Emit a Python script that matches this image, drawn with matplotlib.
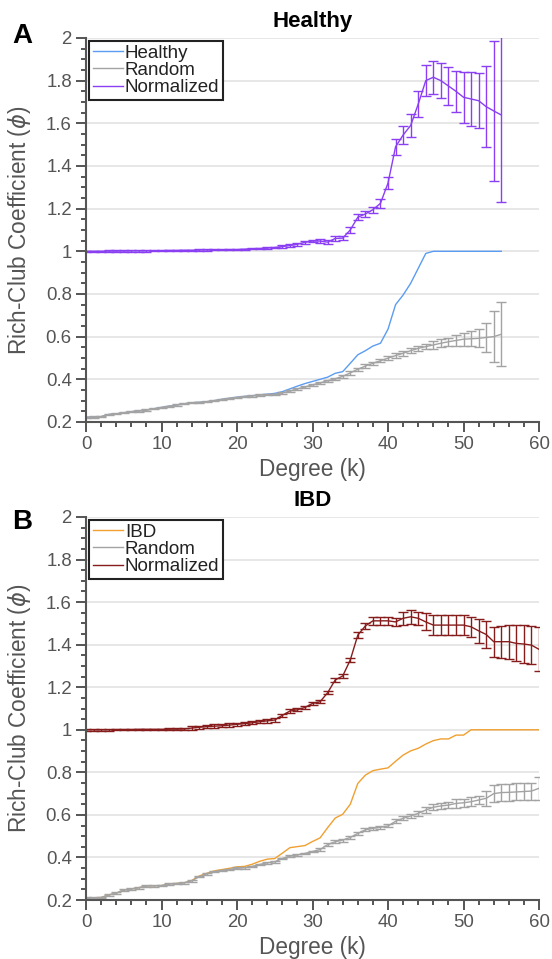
import matplotlib
matplotlib.use("Agg")
import matplotlib.pyplot as plt
import numpy as np
from matplotlib.ticker import MultipleLocator

plt.rcParams['font.family'] = ['Liberation Sans', 'DejaVu Sans']

# ---- Panel A: Healthy ----
k_a = list(range(0, 56))
healthy = [0.222, 0.223, 0.225, 0.235, 0.238, 0.243, 0.248, 0.252, 0.256, 0.262,
           0.268, 0.274, 0.280, 0.285, 0.290, 0.292, 0.295, 0.300, 0.306, 0.311,
           0.316, 0.320, 0.323, 0.327, 0.330, 0.334, 0.342, 0.355, 0.368, 0.380,
           0.390, 0.400, 0.410, 0.428, 0.436, 0.475, 0.515, 0.534, 0.556, 0.569,
           0.635, 0.750, 0.795, 0.850, 0.920, 0.990, 1.0, 1.0, 1.0, 1.0,
           1.0, 1.0, 1.0, 1.0, 1.0, 1.0]
random_a = [0.222, 0.223, 0.225, 0.235, 0.238, 0.243, 0.248, 0.252, 0.256, 0.262,
            0.268, 0.274, 0.280, 0.285, 0.290, 0.292, 0.295, 0.300, 0.306, 0.311,
            0.315, 0.319, 0.322, 0.326, 0.329, 0.330, 0.336, 0.345, 0.355, 0.364,
            0.374, 0.383, 0.393, 0.402, 0.414, 0.430, 0.447, 0.462, 0.475, 0.487,
            0.499, 0.511, 0.522, 0.534, 0.545, 0.553, 0.561, 0.569, 0.576, 0.582,
            0.588, 0.590, 0.592, 0.596, 0.600, 0.611]
random_a_err = [0.003] * 26 + [0.005] * 8 + [0.008] * 7 + [0.012] * 5 + \
               [0.018, 0.018, 0.018, 0.025, 0.03, 0.035, 0.042, 0.068, 0.12, 0.15]
norm_a = [1.000, 1.000, 1.000, 1.001, 1.001, 1.001, 1.002, 1.002, 1.002, 1.003,
          1.003, 1.004, 1.004, 1.005, 1.005, 1.006, 1.006, 1.007, 1.007, 1.008,
          1.008, 1.010, 1.012, 1.013, 1.015, 1.018, 1.022, 1.027, 1.033, 1.042,
          1.048, 1.048, 1.043, 1.060, 1.062, 1.100, 1.160, 1.175, 1.195, 1.225,
          1.320, 1.490, 1.545, 1.590, 1.690, 1.800, 1.816, 1.800, 1.775, 1.750,
          1.722, 1.714, 1.706, 1.678, 1.658, 1.639]
norm_a_err = [0.003] * 26 + [0.006] * 5 + [0.01] * 4 + [0.015] * 4 + \
             [0.02, 0.027, 0.038, 0.043, 0.053, 0.06, 0.073, 0.078, 0.082, 0.09,
              0.096, 0.12, 0.125, 0.13, 0.19, 0.33, 0.41]

# ---- Panel B: IBD ----
k_b = list(range(0, 61))
ibd = [0.208, 0.209, 0.212, 0.224, 0.232, 0.247, 0.252, 0.258, 0.266, 0.267,
       0.268, 0.276, 0.278, 0.281, 0.292, 0.313, 0.326, 0.337, 0.343, 0.349,
       0.356, 0.358, 0.368, 0.382, 0.392, 0.395, 0.420, 0.446, 0.451, 0.456,
       0.475, 0.492, 0.540, 0.585, 0.603, 0.650, 0.748, 0.787, 0.808, 0.815,
       0.821, 0.852, 0.881, 0.901, 0.913, 0.933, 0.949, 0.957, 0.957, 0.975,
       0.975, 1.0, 1.0, 1.0, 1.0, 1.0, 1.0, 1.0, 1.0, 1.0, 1.0]
random_b = [0.208, 0.209, 0.212, 0.224, 0.232, 0.247, 0.252, 0.258, 0.266, 0.267,
            0.268, 0.275, 0.278, 0.281, 0.290, 0.310, 0.323, 0.334, 0.339, 0.344,
            0.349, 0.352, 0.358, 0.367, 0.375, 0.380, 0.395, 0.407, 0.412, 0.419,
            0.428, 0.437, 0.460, 0.474, 0.482, 0.494, 0.513, 0.530, 0.537, 0.542,
            0.548, 0.570, 0.584, 0.595, 0.607, 0.623, 0.636, 0.642, 0.646, 0.654,
            0.657, 0.662, 0.670, 0.678, 0.700, 0.705, 0.706, 0.708, 0.710, 0.712,
            0.725]
random_b_err = [0.004] * 31 + [0.007] * 10 + [0.01] * 4 + [0.014] * 4 + \
               [0.02] * 4 + [0.035] + [0.04] * 6 + [0.055]
norm_b = [1.000, 1.000, 1.000, 1.000, 1.001, 1.001, 1.001, 1.002, 1.002, 1.002,
          1.002, 1.003, 1.003, 1.004, 1.008, 1.012, 1.015, 1.017, 1.019, 1.022,
          1.026, 1.029, 1.033, 1.038, 1.042, 1.046, 1.068, 1.088, 1.094, 1.105,
          1.124, 1.132, 1.174, 1.234, 1.253, 1.328, 1.445, 1.488, 1.512, 1.512,
          1.512, 1.507, 1.524, 1.531, 1.524, 1.507, 1.492, 1.492, 1.492, 1.492,
          1.492, 1.484, 1.465, 1.448, 1.414, 1.414, 1.414, 1.406, 1.403, 1.398,
          1.378]
norm_b_err = [0.004] * 14 + [0.008] * 22 + [0.015, 0.015] + [0.02] * 4 + \
             [0.03, 0.032, 0.03, 0.04] + [0.047] * 6 + [0.055, 0.065] + \
             [0.07, 0.075, 0.08, 0.085, 0.088, 0.09, 0.104]

gray = '#a3a3a3'
axis_col = '#555555'


def style_axes(ax):
    ax.set_xlim(0, 60)
    ax.set_ylim(0.2, 2)
    for s in ['top', 'right']:
        ax.spines[s].set_visible(False)
    for s in ['left', 'bottom']:
        ax.spines[s].set_color(axis_col)
        ax.spines[s].set_linewidth(1.5)
    ax.xaxis.set_major_locator(MultipleLocator(10))
    ax.xaxis.set_minor_locator(MultipleLocator(2))
    ax.yaxis.set_minor_locator(MultipleLocator(0.05))
    ax.set_yticks([0.2, 0.4, 0.6, 0.8, 1.0, 1.2, 1.4, 1.6, 1.8, 2.0])
    ax.set_yticklabels(['0.2', '0.4', '0.6', '0.8', '1', '1.2', '1.4', '1.6', '1.8', '2'])
    ax.tick_params(which='major', direction='out', length=7.2, width=1.4,
                   color=axis_col, labelcolor=axis_col, labelsize=13.4, pad=3)
    ax.tick_params(which='minor', direction='out', length=3.6, width=1.4, color=axis_col)
    ax.grid(axis='y', which='major', color='#e0e0e0', linewidth=1.1)
    ax.set_axisbelow(True)
    ax.set_xlabel('Degree (k)', fontsize=16.3, color=axis_col)
    ax.set_ylabel(r'Rich-Club Coefficient ($\phi$)', fontsize=16.3, color=axis_col)
    ax.xaxis.set_label_coords(0.5, -0.095)
    ax.yaxis.set_label_coords(-0.117, 0.5)


def draw_panel(ax, k, main, main_lbl, main_col, rnd, rnd_err, nrm, nrm_err, nrm_col, title):
    l1, = ax.plot(k, main, color=main_col, lw=1.0)
    c2 = ax.errorbar(k, rnd, yerr=rnd_err, color=gray, lw=1.0, elinewidth=1.0,
                     capsize=3.6, capthick=1.0)
    c3 = ax.errorbar(k, nrm, yerr=nrm_err, color=nrm_col, lw=1.0, elinewidth=1.0,
                     capsize=3.6, capthick=1.0)
    style_axes(ax)
    ax.set_title(title, fontsize=16, fontweight='bold', pad=8)
    leg = ax.legend([l1, c2[0], c3[0]], [main_lbl, 'Random', 'Normalized'],
                    loc='upper left', bbox_to_anchor=(0.007, 0.992),
                    borderaxespad=0, fontsize=13.5, handlelength=1.6,
                    handletextpad=0.1, labelspacing=0.0, borderpad=0.2,
                    fancybox=False, framealpha=1, edgecolor='#222222')
    leg.get_frame().set_linewidth(1.5)
    for t in leg.get_texts():
        t.set_color('#222222')


fig = plt.figure(figsize=(5.52, 9.59), dpi=100)
ax_a = fig.add_axes([0.1558, 0.5600, 0.8207, 0.4004])
ax_b = fig.add_axes([0.1558, 0.0615, 0.8207, 0.3994])

draw_panel(ax_a, k_a, healthy, 'Healthy', '#5b9cf2', random_a, random_a_err,
           norm_a, norm_a_err, '#8a3ff2', 'Healthy')
draw_panel(ax_b, k_b, ibd, 'IBD', '#f0a030', random_b, random_b_err,
           norm_b, norm_b_err, '#861c1c', 'IBD')

fig.text(12 / 552, 1 - 43 / 959, 'A', fontsize=20, fontweight='bold', va='baseline')
fig.text(12 / 552, 1 - 529 / 959, 'B', fontsize=20, fontweight='bold', va='baseline')

fig.savefig('out.png', dpi=100)
